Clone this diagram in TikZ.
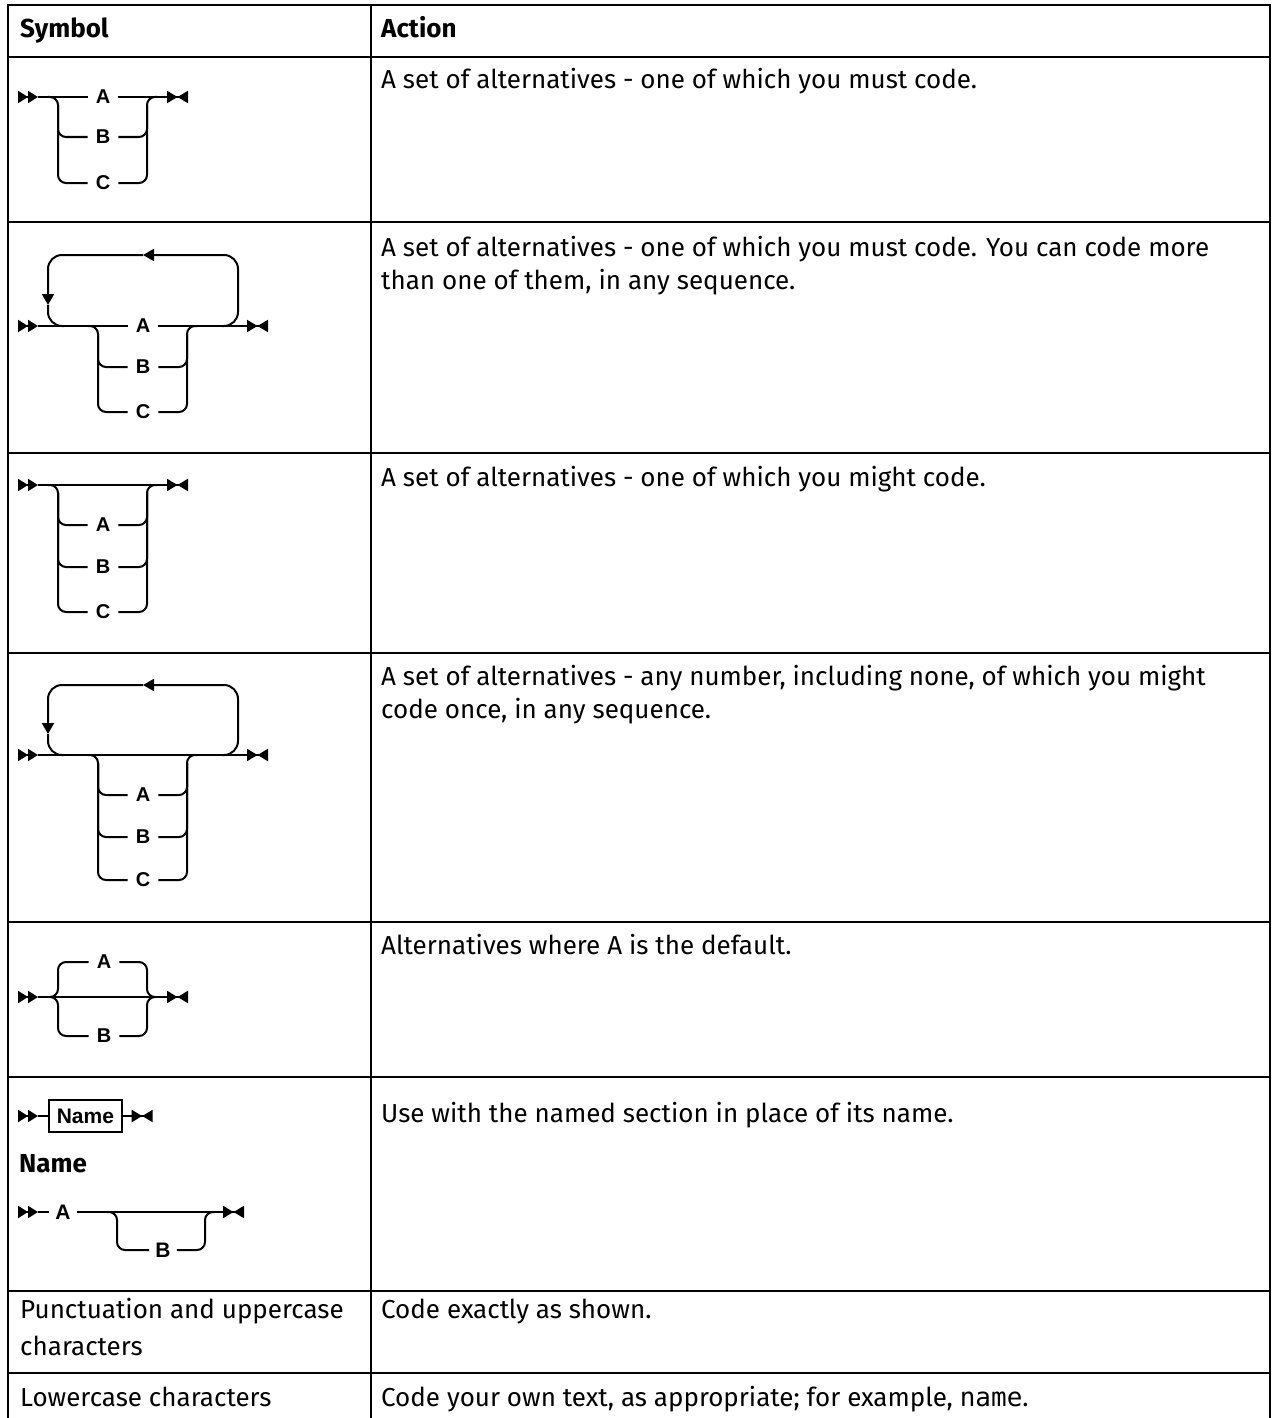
\documentclass[tikz,border=0pt]{standalone}
\usepackage{fontspec}
\setmainfont{Fira Sans}
\setmonofont{DejaVu Sans Mono}
\newfontfamily\railfont{Liberation Sans}
\usetikzlibrary{arrows.meta}
\usetikzlibrary{positioning}
\tikzset{
    grid/.style={
           draw=black, line width=2.4pt,
           },
    cell/.style={
           anchor=base west,
           inner sep=0pt,
           font=\fontsize{26}{33}\selectfont,
           },
    head/.style={
           cell,
           font=\bfseries\fontsize{26}{33}\selectfont,
           },
    lbl/.style={
           inner xsep=8pt, inner ysep=0pt,
           font=\railfont\bfseries\fontsize{20}{20}\selectfont,
           },
    bigl/.style={
           inner xsep=6pt, inner ysep=0pt,
           font=\railfont\bfseries\fontsize{21}{21}\selectfont,
           },
    namebox/.style={
           rectangle,
           draw=black, line width=1.5pt,
           minimum height=32pt,
           inner xsep=8pt, inner ysep=0pt,
           font=\railfont\bfseries\fontsize{21}{21}\selectfont,
           },
    rail/.style={
           line width=2pt,
           rounded corners=8pt,
           },
    loopline/.style={
           line width=2pt,
           rounded corners=14pt,
           },
    backarrow/.style={
           -{Triangle[length=11pt,width=12pt]},
           },
    startmk/.style={
           line width=2pt,
           -{Triangle[length=10pt,width=12pt]Triangle[length=10pt,width=12pt]},
           },
    endmk/.style={
           line width=2pt,
           -{Triangle[length=10.5pt,width=12pt]Triangle[length=10.5pt,width=12pt,reversed]},
           },
}

\begin{document}
\begin{tikzpicture}[x=1pt,y=-1pt]

    \useasboundingbox (0,0) rectangle (1274,1418);

    % table
    \draw[grid] (8,1418) -- (8,5) -- (1270,5) -- (1270,1418);
    \draw[grid] (371,5) -- (371,1418);
    \draw[grid] (8,57) -- (1270,57);
    \draw[grid] (8,222) -- (1270,222);
    \draw[grid] (8,453) -- (1270,453);
    \draw[grid] (8,653) -- (1270,653);
    \draw[grid] (8,922) -- (1270,922);
    \draw[grid] (8,1077) -- (1270,1077);
    \draw[grid] (8,1291) -- (1270,1291);
    \draw[grid] (8,1373) -- (1270,1373);

    \node[head] (hsym) at (20,38) {Symbol};
    \node[head] (hact) at (381,38) {Action};

    \node[cell] (t1) at (381,89) {A set of alternatives - one of which you must code.};
    \node[cell] (t2) at (381,256) {A set of alternatives - one of which you must code. You can code more};
    \node[cell] (t2b) at (381,289) {than one of them, in any sequence.};
    \node[cell] (t3) at (381,486) {A set of alternatives - one of which you might code.};
    \node[cell] (t4) at (381,685) {A set of alternatives - any number, including none, of which you might};
    \node[cell] (t4b) at (381,718) {code once, in any sequence.};
    \node[cell] (t5) at (381,954) {Alternatives where A is the default.};
    \node[cell] (t6) at (381,1122) {Use with the named section in place of its name.};
    \node[cell] (p7) at (20,1318) {Punctuation and uppercase};
    \node[cell] (p7b) at (20,1355) {characters};
    \node[cell] (t7) at (381,1318) {Code exactly as shown.};
    \node[cell] (p8) at (20,1406) {Lowercase characters};
    \node[cell] (t8) at (381,1406) {Code your own text, as appropriate; for example, \texttt{name}.};

    % must code one
    \coordinate (s1) at (38,97);
    \coordinate (e1) at (167,97);
    \coordinate (L1) at (58,97);
    \coordinate (R1) at (147,97);
    \node[lbl] (A1) at (103,97) {A};
    \node[lbl] (B1) at (103,137) {B};
    \node[lbl] (C1) at (103,183) {C};
    \draw[startmk] ([xshift=-20pt]s1) -- (s1);
    \draw[endmk] (e1) -- ([xshift=21pt]e1);
    \draw[rail] (s1) -- (A1.west);
    \draw[rail] (A1.east) -- (e1);
    \draw[rail] ([xshift=-10pt]L1) -| (L1 |- C1) -- (C1.west);
    \draw[rail] ([yshift=-8pt]L1) |- (B1.west);
    \draw[rail] (C1.east) -| (R1) -- ([xshift=10pt]R1);
    \draw[rail] (B1.east) -| ([yshift=-8pt]R1);

    % must code, repeatable
    \coordinate (s2) at (38,326);
    \coordinate (e2) at (247,326);
    \coordinate (L2) at (98,326);
    \coordinate (R2) at (187,326);
    \coordinate (P2) at (64,326);
    \coordinate (Q2) at (222,326);
    \coordinate (T2) at (238,255);
    \coordinate (M2) at (143,255);
    \coordinate (D2) at (48,305);
    \node[lbl] (A2) at (143,326) {A};
    \node[lbl] (B2) at (143,367) {B};
    \node[lbl] (C2) at (143,412) {C};
    \draw[startmk] ([xshift=-20pt]s2) -- (s2);
    \draw[endmk] (e2) -- ([xshift=21pt]e2);
    \draw[rail] (s2) -- (A2.west);
    \draw[rail] (A2.east) -- (e2);
    \draw[loopline,backarrow] (Q2) -| (T2) -- (M2);
    \draw[loopline,backarrow] (M2) -| (D2);
    \draw[loopline] (D2) |- (P2);
    \draw[rail] ([xshift=-10pt]L2) -| (L2 |- C2) -- (C2.west);
    \draw[rail] ([yshift=-8pt]L2) |- (B2.west);
    \draw[rail] (C2.east) -| (R2) -- ([xshift=10pt]R2);
    \draw[rail] (B2.east) -| ([yshift=-8pt]R2);

    % might code one
    \coordinate (s3) at (38,485);
    \coordinate (e3) at (167,485);
    \coordinate (L3) at (58,485);
    \coordinate (R3) at (147,485);
    \node[lbl] (A3) at (103,525) {A};
    \node[lbl] (B3) at (103,567) {B};
    \node[lbl] (C3) at (103,612) {C};
    \draw[startmk] ([xshift=-20pt]s3) -- (s3);
    \draw[endmk] (e3) -- ([xshift=21pt]e3);
    \draw[rail] (s3) -- (e3);
    \draw[rail] ([xshift=-10pt]L3) -| (L3 |- C3) -- (C3.west);
    \draw[rail] ([yshift=-8pt]L3) |- (A3.west);
    \draw[rail] ([yshift=-8pt]L3) |- (B3.west);
    \draw[rail] (C3.east) -| (R3) -- ([xshift=10pt]R3);
    \draw[rail] (A3.east) -| ([yshift=-8pt]R3);
    \draw[rail] (B3.east) -| ([yshift=-8pt]R3);

    % any number, none included
    \coordinate (s4) at (38,755);
    \coordinate (e4) at (247,755);
    \coordinate (L4) at (98,755);
    \coordinate (R4) at (187,755);
    \coordinate (P4) at (64,755);
    \coordinate (Q4) at (222,755);
    \coordinate (T4) at (238,685);
    \coordinate (M4) at (143,685);
    \coordinate (D4) at (48,734);
    \node[lbl] (A4) at (143,795) {A};
    \node[lbl] (B4) at (143,837) {B};
    \node[lbl] (C4) at (143,880) {C};
    \draw[startmk] ([xshift=-20pt]s4) -- (s4);
    \draw[endmk] (e4) -- ([xshift=21pt]e4);
    \draw[rail] (s4) -- (e4);
    \draw[loopline,backarrow] (Q4) -| (T4) -- (M4);
    \draw[loopline,backarrow] (M4) -| (D4);
    \draw[loopline] (D4) |- (P4);
    \draw[rail] ([xshift=-10pt]L4) -| (L4 |- C4) -- (C4.west);
    \draw[rail] ([yshift=-8pt]L4) |- (A4.west);
    \draw[rail] ([yshift=-8pt]L4) |- (B4.west);
    \draw[rail] (C4.east) -| (R4) -- ([xshift=10pt]R4);
    \draw[rail] (A4.east) -| ([yshift=-8pt]R4);
    \draw[rail] (B4.east) -| ([yshift=-8pt]R4);

    % default above the line
    \coordinate (s5) at (38,997);
    \coordinate (e5) at (167,997);
    \coordinate (L5) at (58,997);
    \coordinate (R5) at (147,997);
    \node[lbl] (A5) at (104,962) {A};
    \node[lbl] (B5) at (104,1036) {B};
    \draw[startmk] ([xshift=-20pt]s5) -- (s5);
    \draw[endmk] (e5) -- ([xshift=21pt]e5);
    \draw[rail] (s5) -- (e5);
    \draw[rail] ([xshift=-8pt]L5) -| (A5.west -| L5) -- (A5.west);
    \draw[rail] ([xshift=-8pt]L5) -| (B5.west -| L5) -- (B5.west);
    \draw[rail] (A5.east) -| (R5) -- ([xshift=8pt]R5);
    \draw[rail] (B5.east) -| (R5) -- ([xshift=8pt]R5);

    % named section
    \coordinate (s6) at (38,1116);
    \node[namebox,right=10pt of s6] (Nm) {Name};
    \coordinate[right=9pt of Nm] (e6);
    \draw[startmk] ([xshift=-20pt]s6) -- (s6);
    \draw[rail] (s6) -- (Nm);
    \draw[rail] (Nm) -- (e6);
    \draw[endmk] (e6) -- ([xshift=21pt]e6);

    \node[head] (nmh) at (19,1172) {Name};

    \coordinate (s7) at (38,1212);
    \coordinate (e7) at (223,1212);
    \coordinate (L6) at (117,1212);
    \coordinate (R6) at (205,1212);
    \node[bigl] (A6) at (63,1212) {A};
    \node[bigl] (B6) at (163,1250) {B};
    \draw[startmk] ([xshift=-20pt]s7) -- (s7);
    \draw[endmk] (e7) -- ([xshift=21pt]e7);
    \draw[rail] (s7) -- (A6.west);
    \draw[rail] (A6.east) -- (e7);
    \draw[rail] ([xshift=-10pt]L6) -| (B6.west -| L6) -- (B6.west);
    \draw[rail] (B6.east) -| (R6) -- ([xshift=10pt]R6);

\end{tikzpicture}
\end{document}
